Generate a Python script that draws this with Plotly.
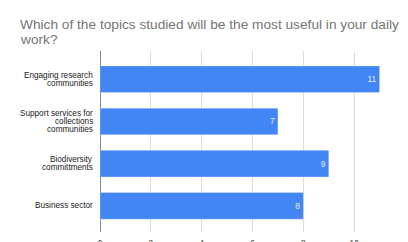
import plotly.graph_objects as go

title_lines = ["Which of the topics studied will be the most useful in your daily", "work?"]
categories = [
    "Engaging research<br>communities",
    "Support services for<br>collections<br>communities",
    "Biodiversity<br>committments",
    "Business sector",
]
values = [11, 7, 9, 8]
x_ticks = [0, 2, 4, 6, 8, 10, 12]

FONT = "Arial, Liberation Sans, sans-serif"
positions = list(range(len(categories)))

fig = go.Figure()
fig.add_trace(go.Bar(
    x=values, y=positions, orientation="h",
    marker=dict(color="#4285F4", line=dict(color="rgba(255,255,255,0.35)", width=0.8)),
    width=0.63,
    text=[str(v) for v in values], textposition="inside", insidetextanchor="end",
    textfont=dict(family=FONT, size=8.5, color="#e6edfc"),
    hoverinfo="skip",
))

annotations = []
# title lines
for k, line in enumerate(title_lines):
    annotations.append(dict(
        text=line, xref="paper", yref="paper", x=-100/305, y=1 + (26 - 14.5 * k) / 181,
        xshift=18, xanchor="left", yanchor="middle", showarrow=False,
        font=dict(family=FONT, size=13.7, color="#757575"),
    ))
# category labels, one annotation per line for tight spacing
LH = 8.4
for i, cat in enumerate(categories):
    lines = cat.split("<br>")
    n = len(lines)
    for k, line in enumerate(lines):
        annotations.append(dict(
            text=line, xref="paper", yref="y", x=0, y=i,
            xanchor="right", yanchor="middle", xshift=-5,
            yshift=((n - 1) / 2 - k) * LH, showarrow=False,
            font=dict(family=FONT, size=8.2, color="#222222"),
        ))

fig.update_layout(
    width=408, height=242,
    margin=dict(l=100, r=3, t=51, b=10, autoexpand=False),
    paper_bgcolor="white", plot_bgcolor="white",
    showlegend=False,
    annotations=annotations,
    xaxis=dict(
        range=[0, 12], tickvals=x_ticks, showgrid=True, gridcolor="#dcdcdc", gridwidth=1,
        zeroline=True, zerolinecolor="#888888", zerolinewidth=1,
        showline=False, ticks="", ticklabelstandoff=5, automargin=False,
        tickfont=dict(family=FONT, size=8.2, color="#444444"),
        fixedrange=True,
    ),
    yaxis=dict(
        range=[3.62, -0.67], showticklabels=False, showgrid=False, zeroline=False,
        showline=False, ticks="", fixedrange=True, automargin=False,
    ),
)

fig.write_html(
    "out.html",
    config={"displayModeBar": False},
    post_script="document.body.style.margin='0';document.body.style.overflow='hidden';",
)
